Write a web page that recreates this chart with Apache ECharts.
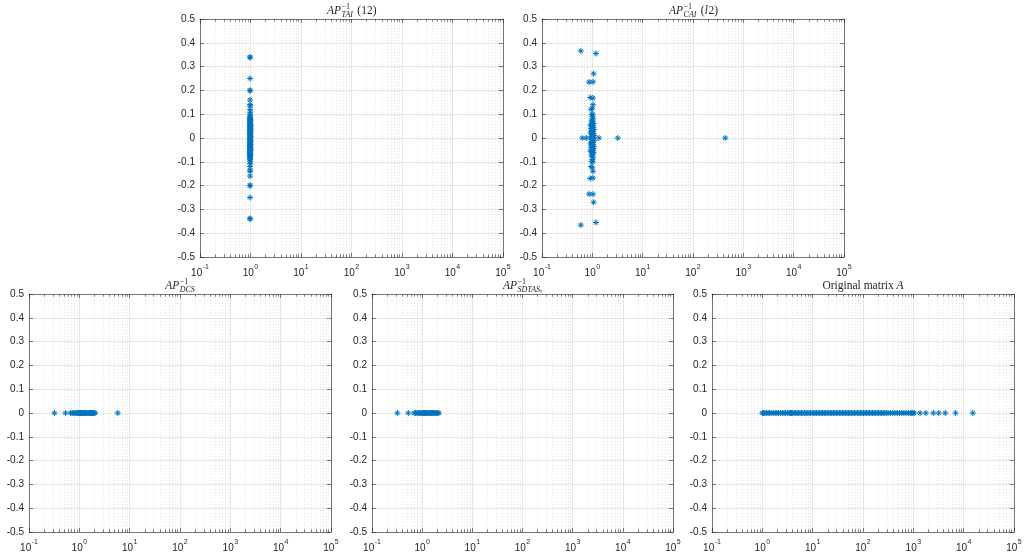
<!DOCTYPE html>
<html>
<head>
<meta charset="utf-8">
<script src="https://cdn.jsdelivr.net/npm/echarts@6/dist/echarts.min.js"></script>
<style>
html,body{margin:0;padding:0;background:#fff;}
#chart{width:1026px;height:555px;}
</style>
</head>
<body>
<div id="chart"></div>
<script>
// ---------------- DATA (eigenvalues: [real, imaginary]) ----------------
const taiEig = [
  [0.97,0.34],[0.99,0.338],[0.97,-0.34],[0.99,-0.338],[0.98,0.25],[0.98,-0.25],
  [0.97,0.2],[0.99,0.199],[0.97,-0.2],[0.99,-0.199],[0.98,0.16],[0.98,-0.16],
  [0.98,0.14],[0.99,0.135],[0.98,-0.14],[0.99,-0.135],[0.98,0.12],[0.98,-0.12],
  [0.99,0.108],[0.99,-0.108],[0.98,0.1],[0.98,-0.1],[0.99,0.092],[0.99,-0.092],
  [0.98,0.085],[0.98,-0.085],[0.99,0.078],[0.97,0.072],[0.99,0.066],[0.98,0.06],
  [1.0,0.054],[0.97,0.048],[0.99,0.042],[0.98,0.036],[1.0,0.03],[0.97,0.024],
  [0.99,0.018],[0.98,0.012],[1.0,0.006],[0.98,0.0],[0.99,-0.006],[0.97,-0.012],
  [1.0,-0.018],[0.98,-0.024],[0.99,-0.03],[0.97,-0.036],[1.0,-0.042],[0.98,-0.048],
  [0.99,-0.054],[0.97,-0.06],[0.99,-0.066],[0.98,-0.072],[0.99,-0.078],
  [0.97,0.081],[1.0,0.075],[0.98,0.069],[0.97,0.063],[1.0,0.057],[0.98,0.051],
  [0.99,0.045],[1.0,0.039],[0.97,0.033],[0.99,0.027],[1.0,0.021],[0.97,0.015],
  [0.99,0.009],[1.0,0.003],[0.97,-0.003],[1.0,-0.009],[0.99,-0.015],[0.97,-0.021],
  [1.0,-0.027],[0.98,-0.033],[0.99,-0.039],[0.97,-0.045],[1.0,-0.051],[0.98,-0.057],
  [0.97,-0.063],[1.0,-0.069],[0.97,-0.075],[0.98,-0.081],[0.98,0.088],[0.98,-0.088],
  [0.985,0.03],[0.985,-0.03],[0.985,0.0],[0.985,0.05],[0.985,-0.05]
];
const caiEig = [
  [0.59,0.366],[1.18,0.355],[0.59,-0.366],[1.18,-0.355],[1.06,0.27],[1.06,-0.27],
  [0.86,0.235],[1.03,0.236],[0.86,-0.235],[1.03,-0.236],[0.91,0.17],[1.03,0.168],
  [0.91,-0.17],[1.03,-0.168],[1.03,0.14],[1.03,-0.14],[1.0,0.125],[0.95,0.12],
  [1.0,-0.125],[0.95,-0.12],[1.02,0.1],[0.97,0.098],[1.02,-0.1],[0.97,-0.098],
  [1.0,0.09],[1.0,-0.09],[1.04,0.08],[0.96,0.075],[1.04,-0.08],[0.96,-0.075],
  [1.0,0.068],[0.92,0.055],[1.06,0.06],[0.98,0.05],[1.03,0.044],[0.95,0.04],
  [1.07,0.035],[0.99,0.03],[0.93,0.025],[1.04,0.02],[0.97,0.015],[1.08,0.01],
  [1.01,0.005],[0.94,0.0],[1.05,0.0],[0.99,-0.005],[1.08,-0.01],[0.97,-0.015],
  [1.04,-0.02],[0.93,-0.025],[0.99,-0.03],[1.07,-0.035],[0.95,-0.04],[1.03,-0.044],
  [0.98,-0.05],[1.06,-0.06],[0.92,-0.055],[1.0,-0.068],
  [1.0,0.062],[0.97,0.056],[1.02,0.052],[1.0,0.046],[0.97,0.038],[1.02,0.033],
  [1.0,0.027],[0.96,0.021],[1.02,0.017],[1.0,0.011],[0.97,0.006],[1.02,0.002],
  [1.0,-0.002],[0.97,-0.006],[1.02,-0.011],[1.0,-0.017],[0.96,-0.021],[1.02,-0.027],
  [1.0,-0.033],[0.97,-0.038],[1.02,-0.046],[1.0,-0.052],[0.97,-0.056],[1.02,-0.062],
  [0.63,0],[0.76,0],[1.35,0],[3.2,0],[437,0]
];
// purely real spectra (imaginary part 0)
const dcsReal = [0.32,0.53,0.67,0.72,0.77,0.82,0.86,0.9,0.93,0.96,1.0,1.03,1.06,1.1,
  1.14,1.18,1.22,1.27,1.32,1.37,1.42,1.48,1.54,1.6,1.67,1.74,1.82,1.9,1.98,2.05,5.8];
const sdtasReal = [0.32,0.53,0.69,0.74,0.79,0.83,0.87,0.91,0.95,0.99,1.03,1.07,1.11,
  1.15,1.2,1.25,1.3,1.36,1.42,1.48,1.55,1.62,1.7,1.78,1.86,1.95,2.05,2.15];
const origReal = [1.0,1.05,1.12,1.2,1.3,1.4,1.5,1.65,1.8,1.95,2.1,2.3,2.5,2.7,2.9,3.2,
  3.4,3.6,3.8,4.0,4.3,4.6,4.9,5.2,5.6,6.0,6.4,6.9,7.4,8.0,8.5,9.1,9.8,10.5,11.2,12,
  12.9,13.8,14.8,15.8,17,18.2,19.5,21,22.4,24,25.7,27.5,29.5,31.6,33.9,36.3,38.9,41.7,
  44.7,47.9,51.3,55,58.9,63.1,67.6,72.4,77.6,83.2,89.1,95.5,102,110,117,126,135,145,
  155,166,178,191,204,219,234,251,270,290,315,350,390,430,480,530,590,650,720,800,870,
  930,980,1040,1360,1770,2500,3200,4300,6900,15200];

// ---------------- LAYOUT ----------------
const panels = [
  {left:200, top:19, width:303, height:238, data: taiEig,
   title:{main:'AP', sup:'\u22121', sub:'TAI', tail:' (12)', tailItalic:false}},
  {left:542, top:19, width:302, height:238, data: caiEig,
   title:{main:'AP', sup:'\u22121', sub:'CAI', tail:' (l2)', tailItalic:true}},
  {left:29, top:294, width:302, height:238, data: dcsReal.map(v=>[v,0]),
   title:{main:'AP', sup:'\u22121', sub:'DCS'}},
  {left:372, top:294, width:301, height:238, data: sdtasReal.map(v=>[v,0]),
   title:{main:'AP', sup:'\u22121', sub:'SDTAS', subsub:'\u03c4'}},
  {left:712, top:294, width:302, height:238, data: origReal.map(v=>[v,0]),
   title:{plain:'Original matrix ', plainItalic:'A'}}
];

const AX = '#262626';
const SERIF = '"Liberation Serif","DejaVu Serif",serif';
const SANS = '"Liberation Sans",Arial,Helvetica,sans-serif';
const BLUE = '#0072BD';
const STAR = 'path://M5,0L5,10M0,5L10,5M1.6,1.6L8.4,8.4M1.6,8.4L8.4,1.6';

const minorVals = [];
for (let e = -1; e < 5; e++) for (let m = 2; m <= 9; m++) minorVals.push(+(m * Math.pow(10, e)).toPrecision(3));

const grids = [], xAxes = [], yAxes = [], series = [], graphics = [];

const ctx = document.createElement('canvas').getContext('2d');
function tw(t, font){ ctx.font = font; return ctx.measureText(t).width; }

panels.forEach((p, i) => {
  grids.push({left:p.left, top:p.top, width:p.width, height:p.height, containLabel:false});
  const common = {gridIndex:i, type:'log', logBase:10, min:0.1, max:100000, splitNumber:6};
  xAxes.push(Object.assign({}, common, {
    position:'bottom',
    axisLine:{show:true, onZero:false, lineStyle:{color:AX, width:0.6}},
    axisTick:{show:true, inside:true, length:4, lineStyle:{color:AX, width:0.6}},
    axisLabel:{show:true, margin:7, color:AX,
      formatter: v => '{b|10}{e|' + Math.round(Math.log10(v)) + '}',
      rich:{b:{fontFamily:SANS, fontSize:10, color:AX, verticalAlign:'bottom', lineHeight:14},
            e:{fontFamily:SANS, fontSize:7, color:AX, verticalAlign:'top', lineHeight:14, padding:[0,0,0,0.5]}}},
    splitLine:{show:true, lineStyle:{color:'#e6e6e6', width:1}}
  }));
  xAxes.push(Object.assign({}, common, {
    position:'top',
    axisLine:{show:true, onZero:false, lineStyle:{color:AX, width:0.6}},
    axisTick:{show:true, inside:true, length:4, lineStyle:{color:AX, width:0.6}},
    axisLabel:{show:false}, splitLine:{show:false}
  }));
  const yc = {gridIndex:i, type:'value', min:-0.5, max:0.5, interval:0.1};
  yAxes.push(Object.assign({}, yc, {
    position:'left',
    axisLine:{show:true, onZero:false, lineStyle:{color:AX, width:0.6}},
    axisTick:{show:true, inside:true, length:4, lineStyle:{color:AX, width:0.6}},
    axisLabel:{show:true, margin:5, color:AX, fontFamily:SANS, fontSize:10,
      formatter: v => Math.abs(v) < 1e-9 ? '0' : v.toFixed(1)},
    splitLine:{show:true, lineStyle:{color:'#e6e6e6', width:1}}
  }));
  yAxes.push(Object.assign({}, yc, {
    position:'right',
    axisLine:{show:true, onZero:false, lineStyle:{color:AX, width:0.6}},
    axisTick:{show:true, inside:true, length:4, lineStyle:{color:AX, width:0.6}},
    axisLabel:{show:false}, splitLine:{show:false}
  }));

  const mlData = [];
  minorVals.forEach(v => {
    mlData.push({xAxis:v, lineStyle:{color:'#d9d9d9', type:[1,2], width:0.7}});
    mlData.push([{coord:[v,-0.5], lineStyle:{color:AX, type:'solid', width:0.6}},{coord:[v,-0.489]}]);
    mlData.push([{coord:[v,0.5], lineStyle:{color:AX, type:'solid', width:0.6}},{coord:[v,0.489]}]);
  });

  series.push({
    type:'scatter', xAxisIndex:2*i, yAxisIndex:2*i, data:p.data,
    symbol:STAR, symbolSize:6,
    itemStyle:{color:'rgba(0,0,0,0)', borderColor:BLUE, borderWidth:1, opacity:1},
    emphasis:{disabled:true}, animation:false, z:3,
    markLine:{silent:true, symbol:['none','none'], label:{show:false}, animation:false,
      data:mlData, z:1}
  });

  // ----- title -----
  const cx = p.left + p.width/2, cy = p.top - 8;
  const t = p.title;
  const fMain = 'italic 11.5px ' + SERIF, fUp = '11.5px ' + SERIF;
  const fSup = '8px ' + SERIF, fSub = 'italic 8px ' + SERIF, fSS = 'italic 5.5px ' + SERIF;
  if (t.plain) {
    const w1 = tw(t.plain, fUp), w2 = tw(t.plainItalic, fMain);
    let x = cx - (w1 + w2)/2;
    graphics.push({type:'text', x:x, y:cy, style:{text:t.plain, font:fUp, fill:AX, verticalAlign:'middle'}});
    graphics.push({type:'text', x:x+w1, y:cy, style:{text:t.plainItalic, font:fMain, fill:AX, verticalAlign:'middle'}});
  } else {
    const wMain = tw(t.main, fMain);
    const wSub = tw(t.sub, fSub) + (t.subsub ? tw(t.subsub, fSS) : 0);
    const wScr = Math.max(tw(t.sup, fSup), wSub) + 0.5;
    let wTail = 0;
    if (t.tail) wTail = tw(t.tail, fUp) + 1;
    let x = cx - (wMain + wScr + wTail)/2;
    graphics.push({type:'text', x:x, y:cy, style:{text:t.main, font:fMain, fill:AX, verticalAlign:'middle'}});
    x += wMain + 0.5;
    graphics.push({type:'text', x:x, y:cy-4.5, style:{text:t.sup, font:fSup, fill:AX, verticalAlign:'middle'}});
    graphics.push({type:'text', x:x, y:cy+3.5, style:{text:t.sub, font:fSub, fill:AX, verticalAlign:'middle'}});
    if (t.subsub) graphics.push({type:'text', x:x+tw(t.sub, fSub), y:cy+6, style:{text:t.subsub, font:fSS, fill:AX, verticalAlign:'middle'}});
    x += wScr + 1;
    if (t.tail) {
      if (t.tailItalic) {
        const a = ' (', b = 'l', c = '2)';
        const wa = tw(a, fUp), wb = tw(b, fMain);
        graphics.push({type:'text', x:x, y:cy, style:{text:a, font:fUp, fill:AX, verticalAlign:'middle'}});
        graphics.push({type:'text', x:x+wa, y:cy, style:{text:b, font:fMain, fill:AX, verticalAlign:'middle'}});
        graphics.push({type:'text', x:x+wa+wb+0.5, y:cy, style:{text:c, font:fUp, fill:AX, verticalAlign:'middle'}});
      } else {
        graphics.push({type:'text', x:x, y:cy, style:{text:t.tail, font:fUp, fill:AX, verticalAlign:'middle'}});
      }
    }
  }
});

const chart = echarts.init(document.getElementById('chart'), null, {renderer:'canvas'});
chart.setOption({
  backgroundColor:'#ffffff',
  animation:false,
  grid:grids, xAxis:xAxes, yAxis:yAxes, series:series,
  graphic:graphics
});
</script>
</body>
</html>
